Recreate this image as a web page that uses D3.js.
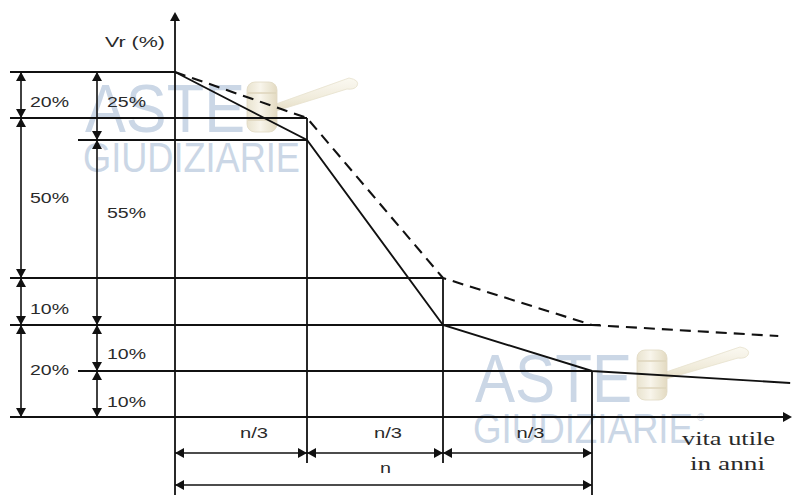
<!DOCTYPE html>
<html><head><meta charset="utf-8">
<script src="https://cdn.jsdelivr.net/npm/d3@7"></script>
<style>body{margin:0;background:#fff}svg{display:block}</style>
</head><body><svg id="c" width="792" height="495"></svg>
<script>
// ---- data ----
const levels = [0, 10, 20, 30, 75, 80, 100];          // Vr (%) levels marked on the diagram
const periods = [0, 1, 2, 3];                          // time in units of n/3
const solidCurve = [[0,100],[1,75],[2,20],[3,10],[4.33,7.4]];
const dashedCurve = [[0,100],[1,80],[2,30],[3,20],[4.25,17.6]];
const dimsOuter = [[100,80],[80,30],[30,20],[20,0]];   // 20%,50%,10%,20%
const dimsInner = [[100,75],[75,20],[20,10],[10,0]];   // 25%,55%,10%,10%
const periodDims = [[0,1],[1,2],[2,3]];
const totalDim = [[0,3]];
const periodLabels = ["n/3","n/3","n/3"];
const totalLabels = ["n"];
const yTitle = "Vr (%)";
const xTitle = ["vita utile","in anni"];
const watermark = ["ASTE","GIUDIZIARIE"];

// ---- scales (schematic, piecewise) ----
const y = d3.scaleLinear().domain(levels).range([417,371,325,278,140,118,72]);
const x = d3.scaleLinear().domain(periods).range([175,307,443,592]);

const svg = d3.select('#c');
const K = '#111';

// ---- watermark ----
const defs = svg.append('defs');
const gr = defs.append('linearGradient').attr('id','wood').attr('x1',0).attr('y1',0).attr('x2',0).attr('y2',1);
gr.append('stop').attr('offset','0%').attr('stop-color','#fbf9f1');
gr.append('stop').attr('offset','60%').attr('stop-color','#f1ecdb');
gr.append('stop').attr('offset','100%').attr('stop-color','#e4dcc3');
const gh = defs.append('linearGradient').attr('id','head').attr('x1',0).attr('y1',0).attr('x2',1).attr('y2',0);
gh.append('stop').attr('offset','0%').attr('stop-color','#e9e2cd');
gh.append('stop').attr('offset','45%').attr('stop-color','#f8f5ea');
gh.append('stop').attr('offset','100%').attr('stop-color','#e2d9bf');

const wm = svg.append('g');
function gavel(g, hx, hy, ex, ey){
  const gg = g.append('g').attr('opacity',0.95);
  // handle: thin at head, widening to rounded end
  gg.append('path')
    .attr('d', `M${hx+29},${hy+22} L${ex-8},${ey-6} Q${ex+3},${ey-4} ${ex},${ey+2} Q${ex-3},${ey+6} ${ex-10},${ey+5} L${hx+29},${hy+29} Z`)
    .attr('fill','url(#wood)').attr('stroke','#e6dfca').attr('stroke-width',0.8);
  gg.append('rect').attr('x',hx).attr('y',hy).attr('width',30).attr('height',50).attr('rx',8)
    .attr('fill','url(#head)').attr('stroke','#e0d8c0').attr('stroke-width',0.8);
  [11,38].forEach(d=>gg.append('line').attr('x1',hx+1).attr('x2',hx+29).attr('y1',hy+d).attr('y2',hy+d)
    .attr('stroke','#ddd3b8').attr('stroke-width',1.5));
}
function wmText(g, x0, b1, b2, w1, w2, reg){
  g.append('text').attr('x',x0+2).attr('y',b1).text(watermark[0])
    .attr('font-family','Liberation Sans, Arial, sans-serif').attr('font-size',69)
    .attr('textLength',w1).attr('lengthAdjust','spacingAndGlyphs').attr('fill','#cbd7e6');
  g.append('text').attr('x',x0).attr('y',b2).text(watermark[1])
    .attr('font-family','Liberation Sans, Arial, sans-serif').attr('font-size',42)
    .attr('textLength',w2).attr('lengthAdjust','spacingAndGlyphs').attr('fill','#cbd7e6');
  if(reg) g.append('text').attr('x',x0+w2+4).attr('y',b2-22).text('®')
    .attr('font-family','Liberation Sans, Arial, sans-serif').attr('font-size',10).attr('fill','#cbd7e6');
}
wmText(wm, 83, 132, 172, 160, 217, false);
wmText(wm, 473, 402, 443, 157, 220, true);
gavel(wm, 247, 82, 357, 84);
gavel(wm, 637, 350, 748, 353);

const g = svg.append('g').attr('stroke',K).attr('fill','none').attr('stroke-width',1.8);

function arrow(tx, ty, dir){
  const L=9, w=5; let p;
  if(dir==='up') p=[[tx,ty],[tx-w,ty+L],[tx+w,ty+L]];
  if(dir==='down') p=[[tx,ty],[tx-w,ty-L],[tx+w,ty-L]];
  if(dir==='left') p=[[tx,ty],[tx+L,ty-w],[tx+L,ty+w]];
  if(dir==='right') p=[[tx,ty],[tx-L,ty-w],[tx-L,ty+w]];
  svg.append('path').attr('d','M'+p.join('L')+'Z').attr('fill',K);
}
function line(x1,y1,x2,y2,sw){
  g.append('line').attr('x1',x1).attr('y1',y1).attr('x2',x2).attr('y2',y2).attr('stroke-width',sw||1.8);
}

// ---- extension lines (horizontal) ----
const colOuter = 21, colInner = 97;
line(10, y(100), x(0), y(100));
line(10, y(80), x(1), y(80));
line(78, y(75), x(1), y(75));
line(10, y(30), x(2), y(30));
line(10, y(20), 600, y(20));
line(78, y(10), x(3), y(10));
// x axis
line(10, y(0), 786, y(0));
arrow(792, y(0), 'right');
// y axis
line(x(0), 495, x(0), 20);
arrow(x(0), 12, 'up');
// verticals
line(x(1), y(80), x(1), 463);
line(x(2), y(30), x(2), 463);
line(x(3), y(10), x(3), 495);

// ---- curves ----
const lineGen = d3.line().x(d=>x(d[0])).y(d=>y(d[1]));
g.append('path').attr('d', lineGen(solidCurve)).attr('stroke-width',1.9);
g.append('path').attr('d', lineGen(dashedCurve)).attr('stroke-width',2.1).attr('stroke-dasharray','11,7');

// ---- vertical dimension chains ----
const txt = (xx, yy, s, size, len, fam) => svg.append('text').attr('x',xx).attr('y',yy).text(s)
  .attr('font-family', fam || 'Liberation Sans, Arial, sans-serif').attr('font-size',size)
  .attr('fill','#2a2a2a').attr('textLength',len).attr('lengthAdjust','spacingAndGlyphs');

const outerDy = [12, 5, 12, 4];
const innerDy = [1, -15, 11, 13];
function vChain(cx, dims, lx, dys){
  dims.forEach((d,i)=>{
    const y1=y(d[0]), y2=y(d[1]);
    line(cx, y1, cx, y2, 1.6);
    arrow(cx, y1, 'up'); arrow(cx, y2, 'down');
    txt(lx, (y1+y2)/2 + dys[i], (d[0]-d[1])+'%', 15, 39);
  });
}
vChain(colOuter, dimsOuter, 30, outerDy);
vChain(colInner, dimsInner, 107, innerDy);

// ---- horizontal dimension chains ----
function hChain(yy, dims, labels, ly){
  dims.forEach((d,i)=>{
    const x1=x(d[0]), x2=x(d[1]);
    line(x1, yy, x2, yy, 1.6);
    arrow(x1, yy, 'left'); arrow(x2, yy, 'right');
    const L = labels[i];
    const w = L.length>1 ? 28 : 11;
    const cx = (x1+x2)/2 + (L.length>1 ? 13 : 2);
    txt(cx - w/2, ly, L, 15, w);
  });
}
hChain(453, periodDims, periodLabels, 438);
hChain(485, totalDim, totalLabels, 473);

// ---- titles ----
txt(105, 47, yTitle, 15, 60);
txt(682, 445, xTitle[0], 19, 93, 'Liberation Serif, Times New Roman, serif');
txt(690, 470, xTitle[1], 19, 75, 'Liberation Serif, Times New Roman, serif');
</script></body></html>
